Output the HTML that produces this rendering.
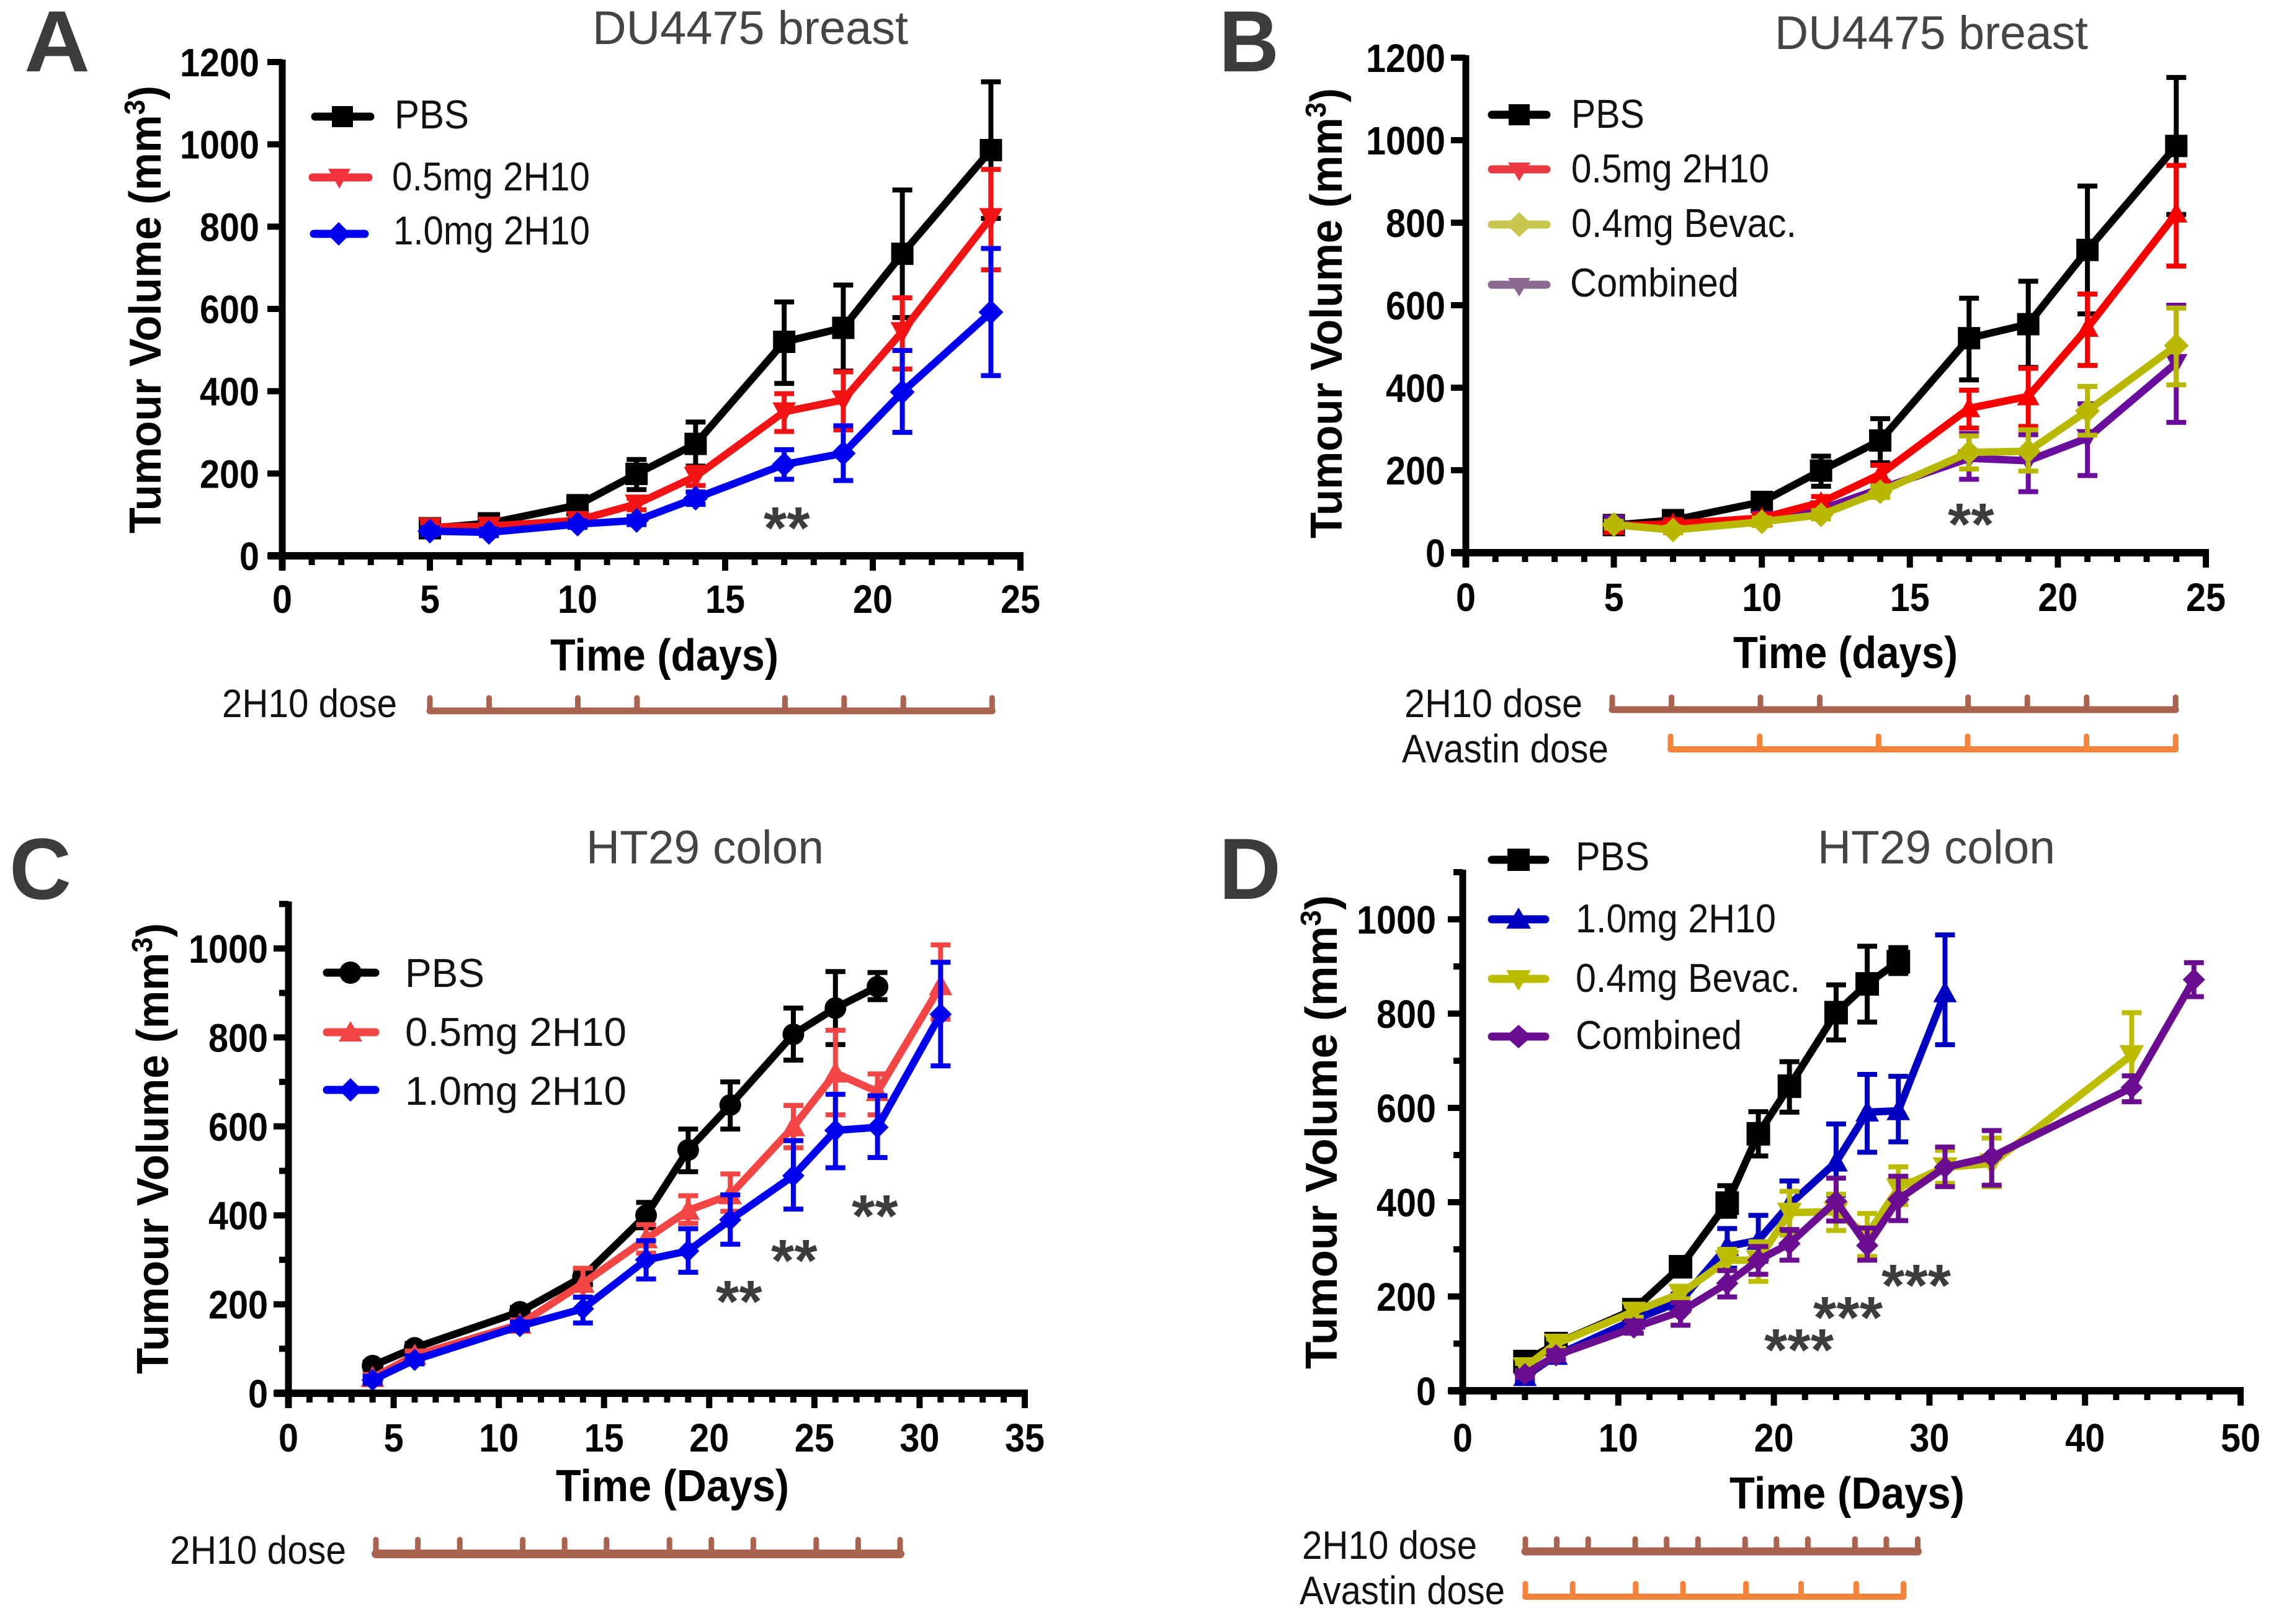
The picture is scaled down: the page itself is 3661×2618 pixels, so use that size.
<!DOCTYPE html>
<html lang="en">
<head>
<meta charset="utf-8">
<title>Tumour volume over time</title>
<style>
html,body{margin:0;padding:0;background:#fff}
svg{display:block;font-family:"Liberation Sans",Arial,sans-serif}
.letter{font-size:140px;font-weight:700;fill:#3c3c3c}
.title{font-size:76px;fill:#444}
.axt{font-size:72px;font-weight:700;fill:#000}
.yt{font-size:72px;font-weight:700;fill:#000}
.sup{font-size:46px}
.leg{font-size:65px;fill:#111}
.dose{font-size:64px;fill:#111}
.star{font-size:96px;font-weight:700;fill:#3c3c3c}
.tick{font-size:64px;font-weight:700;fill:#000}
</style>
</head>
<body>
<svg id="fig" xmlns="http://www.w3.org/2000/svg" width="3661" height="2618" viewBox="0 0 3661 2618">
<rect width="3661" height="2618" fill="#fff"/>

<g>
<text class="letter" x="39" y="115" textLength="106" lengthAdjust="spacingAndGlyphs">A</text>
<text class="title" x="955" y="71" textLength="509" lengthAdjust="spacingAndGlyphs">DU4475 breast</text>
<text class="yt" transform="translate(259,860) rotate(-90)" textLength="722" lengthAdjust="spacingAndGlyphs">Tumour Volume (mm<tspan class="sup" dy="-26">3</tspan><tspan dy="26">)</tspan></text>
<text class="axt" x="887" y="1081" textLength="368" lengthAdjust="spacingAndGlyphs">Time (days)</text>
<text class="dose" x="358" y="1156" textLength="282" lengthAdjust="spacingAndGlyphs">2H10 dose</text>
<text class="star" x="1231" y="884">**</text>
</g>
<g>
<text class="letter" x="1965" y="115" textLength="97" lengthAdjust="spacingAndGlyphs">B</text>
<text class="title" x="2861" y="79" textLength="505" lengthAdjust="spacingAndGlyphs">DU4475 breast</text>
<text class="yt" transform="translate(2163,868) rotate(-90)" textLength="726" lengthAdjust="spacingAndGlyphs">Tumour Volume (mm<tspan class="sup" dy="-26">3</tspan><tspan dy="26">)</tspan></text>
<text class="axt" x="2794" y="1077" textLength="362" lengthAdjust="spacingAndGlyphs">Time (days)</text>
<text class="dose" x="2264" y="1156" textLength="287" lengthAdjust="spacingAndGlyphs">2H10 dose</text>
<text class="dose" x="2260" y="1229" textLength="333" lengthAdjust="spacingAndGlyphs">Avastin dose</text>
<text class="star" x="3140" y="878">**</text>
</g>
<g>
<text class="letter" x="15" y="1449" textLength="100" lengthAdjust="spacingAndGlyphs">C</text>
<text class="title" x="945" y="1392" textLength="383" lengthAdjust="spacingAndGlyphs">HT29 colon</text>
<text class="yt" transform="translate(271,2215) rotate(-90)" textLength="727" lengthAdjust="spacingAndGlyphs">Tumour Volume (mm<tspan class="sup" dy="-26">3</tspan><tspan dy="26">)</tspan></text>
<text class="axt" x="896" y="2420" textLength="376" lengthAdjust="spacingAndGlyphs">Time (Days)</text>
<text class="dose" x="274" y="2521" textLength="284" lengthAdjust="spacingAndGlyphs">2H10 dose</text>
<text class="star" x="1154" y="2131">**</text>
<text class="star" x="1243" y="2065">**</text>
<text class="star" x="1373" y="1993">**</text>
</g>
<g>
<text class="letter" x="1965" y="1449" textLength="100" lengthAdjust="spacingAndGlyphs">D</text>
<text class="title" x="2930" y="1392" textLength="383" lengthAdjust="spacingAndGlyphs">HT29 colon</text>
<text class="yt" transform="translate(2155,2207) rotate(-90)" textLength="764" lengthAdjust="spacingAndGlyphs">Tumour Volume (mm<tspan class="sup" dy="-26">3</tspan><tspan dy="26">)</tspan></text>
<text class="axt" x="2788" y="2432" textLength="379" lengthAdjust="spacingAndGlyphs">Time (Days)</text>
<text class="dose" x="2099" y="2513" textLength="282" lengthAdjust="spacingAndGlyphs">2H10 dose</text>
<text class="dose" x="2095" y="2586" textLength="331" lengthAdjust="spacingAndGlyphs">Avastin dose</text>
<text class="star" x="2844" y="2209">***</text>
<text class="star" x="2923" y="2157">***</text>
<text class="star" x="3033" y="2105">***</text>
</g>

<g>
<g><line x1="508" x2="597" y1="188" y2="188" stroke="#000" stroke-width="13" stroke-linecap="round"/><rect x="535" y="171" width="34" height="34" fill="#000"/><text class="leg" x="636" y="207" textLength="120" lengthAdjust="spacingAndGlyphs">PBS</text></g>
<g><line x1="504" x2="594" y1="286" y2="286" stroke="#f0333c" stroke-width="13" stroke-linecap="round"/><polygon points="529,272 565,272 547,304" fill="#f0333c"/><text class="leg" x="632" y="307" textLength="319" lengthAdjust="spacingAndGlyphs">0.5mg 2H10</text></g>
<g><line x1="506" x2="588" y1="377" y2="377" stroke="#0000ee" stroke-width="13" stroke-linecap="round"/><polygon points="546,358 565,377 546,396 527,377" fill="#0000ee"/><text class="leg" x="634" y="394" textLength="317" lengthAdjust="spacingAndGlyphs">1.0mg 2H10</text></g>
</g>
<g>
<g><line x1="2405" x2="2493" y1="185" y2="185" stroke="#000" stroke-width="13" stroke-linecap="round"/><rect x="2432" y="168" width="34" height="34" fill="#000"/><text class="leg" x="2533" y="206" textLength="118" lengthAdjust="spacingAndGlyphs">PBS</text></g>
<g><line x1="2405" x2="2493" y1="273" y2="273" stroke="#ea3a42" stroke-width="13" stroke-linecap="round"/><polygon points="2431,262 2467,262 2449,292" fill="#ea3a42"/><text class="leg" x="2533" y="294" textLength="319" lengthAdjust="spacingAndGlyphs">0.5mg 2H10</text></g>
<g><line x1="2405" x2="2493" y1="362" y2="362" stroke="#c9c74f" stroke-width="13" stroke-linecap="round"/><polygon points="2449,342 2470,362 2449,382 2428,362" fill="#c9c74f"/><text class="leg" x="2533" y="382" textLength="363" lengthAdjust="spacingAndGlyphs">0.4mg Bevac.</text></g>
<g><line x1="2405" x2="2493" y1="459" y2="459" stroke="#8a6a90" stroke-width="13" stroke-linecap="round"/><polygon points="2431,448 2467,448 2449,478" fill="#8a6a90"/><text class="leg" x="2531" y="478" textLength="272" lengthAdjust="spacingAndGlyphs">Combined</text></g>
</g>
<g>
<g><line x1="527" x2="605" y1="1568" y2="1568" stroke="#000" stroke-width="13" stroke-linecap="round"/><circle cx="565" cy="1568" r="18" fill="#000"/><text class="leg" x="653" y="1591" textLength="128" lengthAdjust="spacingAndGlyphs">PBS</text></g>
<g><line x1="527" x2="605" y1="1664" y2="1664" stroke="#f44545" stroke-width="13" stroke-linecap="round"/><polygon points="565,1646 584,1679 546,1679" fill="#f44545"/><text class="leg" x="653" y="1686" textLength="357" lengthAdjust="spacingAndGlyphs">0.5mg 2H10</text></g>
<g><line x1="527" x2="605" y1="1757" y2="1757" stroke="#0000ee" stroke-width="13" stroke-linecap="round"/><polygon points="565,1738 584,1757 565,1776 546,1757" fill="#0000ee"/><text class="leg" x="653" y="1781" textLength="357" lengthAdjust="spacingAndGlyphs">1.0mg 2H10</text></g>
</g>
<g>
<g><line x1="2405" x2="2491" y1="1386" y2="1386" stroke="#000" stroke-width="13" stroke-linecap="round"/><rect x="2430" y="1368" width="36" height="36" fill="#000"/><text class="leg" x="2540" y="1403" textLength="119" lengthAdjust="spacingAndGlyphs">PBS</text></g>
<g><line x1="2405" x2="2491" y1="1482" y2="1482" stroke="#0000c0" stroke-width="13" stroke-linecap="round"/><polygon points="2448,1463 2468,1497 2428,1497" fill="#0000c0"/><text class="leg" x="2540" y="1503" textLength="323" lengthAdjust="spacingAndGlyphs">1.0mg 2H10</text></g>
<g><line x1="2405" x2="2491" y1="1578" y2="1578" stroke="#bcbc00" stroke-width="13" stroke-linecap="round"/><polygon points="2428,1564 2468,1564 2448,1597" fill="#bcbc00"/><text class="leg" x="2540" y="1599" textLength="362" lengthAdjust="spacingAndGlyphs">0.4mg Bevac.</text></g>
<g><line x1="2405" x2="2491" y1="1671" y2="1671" stroke="#6a0d91" stroke-width="13" stroke-linecap="round"/><polygon points="2448,1652 2469,1671 2448,1690 2427,1671" fill="#6a0d91"/><text class="leg" x="2540" y="1691" textLength="268" lengthAdjust="spacingAndGlyphs">Combined</text></g>
</g>
</svg>

<script>
// ---------- Panel A data ----------
const aDays = [5,7,10,12,14,17,19,21,24];
const aPbs = [67,79,123,199,272,520,554,734,986];
const aPbsHi = [78,90,135,234,325,617,658,889,1152];
const aPbsLo = [56,68,111,161,218,419,449,579,820];
const a05 = [70,72,86,126,193,350,379,545,822];
const a05Hi = [80,80,95,140,215,394,447,627,939];
const a05Lo = [60,64,77,112,171,302,306,454,695];
const a10 = [60,57,77,86,140,222,249,398,592];
const a10Hi = [68,65,85,96,155,258,316,499,747];
const a10Lo = [52,49,69,76,125,186,183,300,438];
const aXTicks = [0,5,10,15,20,25];
const aYTicks = [0,200,400,600,800,1000,1200];
const aDose2h10 = [5,7,10,12,17,19,21,24];

// ---------- Panel B data ----------
const bDays = [5,7,10,12,14,17,19,21,24];
const bPbs = [67,79,123,199,272,520,554,734,986];
const bPbsHi = [78,90,135,234,325,617,658,889,1152];
const bPbsLo = [56,68,111,161,218,419,449,579,820];
const b05 = [65,70,84,122,190,350,379,545,822];
const b05Hi = [75,80,93,136,212,394,447,627,939];
const b05Lo = [55,60,75,108,168,302,306,454,695];
const bBev = [68,55,75,92,148,243,246,344,502];
const bBevHi = [76,62,84,102,162,283,298,403,593];
const bBevLo = [60,48,66,82,134,203,198,285,407];
const bCom = [70,60,80,105,155,229,223,278,460];
const bComHi = [80,68,90,118,172,289,286,361,600];
const bComLo = [60,52,70,92,138,178,148,187,316];
const bXTicks = [0,5,10,15,20,25];
const bYTicks = [0,200,400,600,800,1000,1200];
const bDose2h10 = [5,7,10,12,17,19,21,24];
const bDoseAvastin = [7,10,14,17,21,24];

// ---------- Panel C data ----------
const cDaysPbs = [4,6,11,14,17,19,21,24,26,28];
const cPbs = [62,102,183,262,400,547,648,807,866,914];
const cPbsHi = [70,112,193,280,429,594,700,866,948,946];
const cPbsLo = [54,92,173,244,372,498,594,749,784,885];
const cDays = [4,6,11,14,17,19,21,24,26,28,31];
const c05 = [35,85,155,247,347,411,446,599,720,678,916];
const c05Hi = [42,95,165,281,379,444,493,647,816,718,1008];
const c05Lo = [22,72,142,216,315,382,409,552,626,626,841];
const c10 = [30,75,151,190,300,320,390,489,591,598,852];
const c10Hi = [38,84,160,216,343,370,446,568,672,669,969];
const c10Lo = [22,66,142,158,257,272,335,414,507,530,736];
const cXTicks = [0,5,10,15,20,25,30,35];
const cYTicks = [0,200,400,600,800,1000];
const cDose2h10 = [4,6,8,11,13,15,18,20,22,25,27,29];

// ---------- Panel D data ----------
const dDaysPbs = [4,6,11,14,17,19,21,24,26,28];
const dPbs = [62,100,172,263,398,545,646,802,863,910];
const dPbsHi = [72,110,185,275,435,592,698,861,943,940];
const dPbsLo = [52,90,160,250,370,498,591,744,782,885];
const dDays10 = [4,6,11,14,17,19,21,24,26,28,31];
const d10 = [30,75,150,190,306,319,395,485,591,594,844];
const d10Hi = [40,85,160,205,344,372,445,566,671,667,967];
const d10Lo = [20,65,140,175,260,275,335,415,506,528,734];
const dDaysBev = [4,6,11,14,17,19,21,24,26,28,31,34,43];
const dBev = [50,100,168,206,277,277,378,380,330,430,474,482,712];
const dBevHi = [58,110,180,220,300,316,423,417,376,475,510,536,802];
const dBevLo = [42,90,156,195,255,232,330,340,285,395,440,433,613];
const dDaysCom = [4,6,11,14,17,19,21,24,26,28,31,34,43,47];
const dCom = [35,75,134,168,228,277,312,402,308,406,474,496,643,872];
const dComHi = [42,85,148,187,255,306,342,451,345,455,517,552,668,908];
const dComLo = [28,65,122,139,199,247,277,360,277,361,433,436,613,836];
const dXTicks = [0,10,20,30,40,50];
const dYTicks = [0,200,400,600,800,1000];
const dDose2h10 = [4,6,8,11,13,15,18,20,22,25,27,29];
const dDoseAvastin = [4,7,11,14,18,21.5,25,28];

const NS = 'http://www.w3.org/2000/svg';
const fig = document.getElementById('fig');
const DIGIT_W = 32;

function mk(tag, attrs, name, parent, txt) {
  const el = document.createElementNS(NS, tag);
  for (const k in attrs) el.setAttribute(k, attrs[k]);
  
  
  if (txt !== undefined) el.textContent = txt;
  parent.appendChild(el);
  return el;
}

function marker(shape, cx, cy, size, color, name, parent) {
  const h = size / 2;
  if (shape === 'square') {
    return mk('rect', {x: cx - h, y: cy - h, width: size, height: size, fill: color}, name, parent);
  }
  if (shape === 'circle') {
    return mk('circle', {cx: cx, cy: cy, r: h, fill: color}, name, parent);
  }
  let pts;
  if (shape === 'up') pts = [[cx, cy - h], [cx + h, cy + h * 0.8], [cx - h, cy + h * 0.8]];
  if (shape === 'down') pts = [[cx - h, cy - h * 0.8], [cx + h, cy - h * 0.8], [cx, cy + h]];
  if (shape === 'diamond') pts = [[cx, cy - h], [cx + h, cy], [cx, cy + h], [cx - h, cy]];
  return mk('polygon', {points: pts.map(q => q.join(',')).join(' '), fill: color}, name, parent);
}

function drawPanel(p) {
  const g = mk('g', {}, 'panel-' + p.id + '-chart', fig);
  const X = d => p.x0 + (d / p.xMax) * (p.x1 - p.x0);
  const Y = v => p.y0 - (v / p.yRef) * (p.y0 - p.yRefPx);
  const yTopPx = Y(p.yMax);

  // series
  p.series.forEach(s => {
    const sg = mk('g', {}, 'series-' + s.key, g);
    s.days.forEach((d, i) => {
      const x = X(d), hi = Y(s.hi[i]), lo = Y(s.lo[i]);
      const eb = mk('g', {stroke: s.color, 'stroke-width': 8, fill: 'none'}, 'error-bar-' + s.key + '-day-' + d, sg);
      mk('line', {x1: x, x2: x, y1: hi, y2: lo}, 'error-stem', eb);
      mk('line', {x1: x - 16, x2: x + 16, y1: hi, y2: hi}, 'error-cap-high', eb);
      mk('line', {x1: x - 16, x2: x + 16, y1: lo, y2: lo}, 'error-cap-low', eb);
    });
    mk('polyline', {
      points: s.days.map((d, i) => X(d) + ',' + Y(s.values[i])).join(' '),
      fill: 'none', stroke: s.color, 'stroke-width': 12, 'stroke-linejoin': 'round'
    }, 'line-' + s.key, sg);
    s.days.forEach((d, i) => {
      marker(s.shape, X(d), Y(s.values[i]), s.size, s.color, 'point-' + s.key + '-day-' + d, sg);
    });
  });

  // axes
  const ax = mk('g', {stroke: '#000', fill: 'none'}, 'panel-' + p.id + '-axes', g);
  mk('line', {x1: p.x0, x2: p.x0, y1: yTopPx - 4, y2: p.y0 + 23, 'stroke-width': 11}, 'y-axis-line', ax);
  mk('line', {x1: p.x0 - 23, x2: p.x1 + 5, y1: p.y0, y2: p.y0, 'stroke-width': 12}, 'x-axis-line', ax);
  const xStep = p.xTicks[1] - p.xTicks[0];
  const minorStep = xStep / p.xMinorPerMajor;
  for (let v = 0; v <= p.xMax + 1e-6; v += minorStep) {
    const major = Math.abs(v / xStep - Math.round(v / xStep)) < 1e-6;
    mk('line', {x1: X(v), x2: X(v), y1: p.y0, y2: p.y0 + (major ? 24 : 15), 'stroke-width': 10}, major ? 'x-major-tick' : 'x-minor-tick', ax);
  }
  p.yTicks.forEach(v => {
    mk('line', {x1: p.x0 - 24, x2: p.x0, y1: Y(v), y2: Y(v), 'stroke-width': 10}, 'y-major-tick', ax);
  });
  if (p.yMinor) {
    const yStep = p.yTicks[1] - p.yTicks[0];
    for (let v = yStep / 2; v <= p.yMax; v += yStep) {
      mk('line', {x1: p.x0 - 15, x2: p.x0, y1: Y(v), y2: Y(v), 'stroke-width': 10}, 'y-minor-tick', ax);
    }
  }
  p.xTicks.forEach(v => {
    const s = String(v);
    mk('text', {class: 'tick', x: X(v), y: p.y0 + p.xLabelDy, 'text-anchor': 'middle', textLength: s.length * DIGIT_W, lengthAdjust: 'spacingAndGlyphs'}, 'x-tick-label', g, s);
  });
  p.yTicks.forEach(v => {
    const s = String(v);
    mk('text', {class: 'tick', x: p.x0 - p.yLabelDx, y: Y(v) + 23, 'text-anchor': 'end', textLength: s.length * DIGIT_W, lengthAdjust: 'spacingAndGlyphs'}, 'y-tick-label', g, s);
  });

  // dose schedule bars
  p.doses.forEach(b => {
    const dg = mk('g', {stroke: b.color, fill: 'none'}, 'dose-bar-' + b.key, g);
    const DX = d => b.xStart + (d - b.dStart) * b.perDay;
    const days = b.days;
    mk('line', {x1: DX(days[0]), x2: DX(days[days.length - 1]), y1: b.y, y2: b.y, 'stroke-width': b.w, 'stroke-linecap': 'round'}, 'dose-line', dg);
    days.forEach(d => {
      mk('line', {x1: DX(d), x2: DX(d), y1: b.y, y2: b.y - b.tick, 'stroke-width': 9, 'stroke-linecap': 'round'}, 'dose-tick-day-' + d, dg);
    });
  });
}

drawPanel({
  id: 'a', x0: 455, x1: 1645, xMax: 25, y0: 896, yRef: 1200, yRefPx: 100, yMax: 1200,
  xTicks: aXTicks, yTicks: aYTicks, xMinorPerMajor: 5, yMinor: false, xLabelDy: 92, yLabelDx: 37,
  series: [
    {key: 'pbs', days: aDays, values: aPbs, hi: aPbsHi, lo: aPbsLo, color: '#000', shape: 'square', size: 36},
    {key: '0-5mg-2h10', days: aDays, values: a05, hi: a05Hi, lo: a05Lo, color: '#f21414', shape: 'down', size: 38},
    {key: '1-0mg-2h10', days: aDays, values: a10, hi: a10Hi, lo: a10Lo, color: '#0000f0', shape: 'diamond', size: 40}
  ],
  doses: [{key: '2h10', days: aDose2h10, dStart: 5, xStart: 693, perDay: 47.7, y: 1146, w: 11, tick: 21, color: '#a9634f'}]
});

drawPanel({
  id: 'b', x0: 2363, x1: 3556, xMax: 25, y0: 891, yRef: 1200, yRefPx: 93, yMax: 1200,
  xTicks: bXTicks, yTicks: bYTicks, xMinorPerMajor: 5, yMinor: false, xLabelDy: 94, yLabelDx: 33,
  series: [
    {key: 'pbs', days: bDays, values: bPbs, hi: bPbsHi, lo: bPbsLo, color: '#000', shape: 'square', size: 36},
    {key: 'combined', days: bDays, values: bCom, hi: bComHi, lo: bComLo, color: '#6a0d9e', shape: 'down', size: 36},
    {key: '0-5mg-2h10', days: bDays, values: b05, hi: b05Hi, lo: b05Lo, color: '#f80000', shape: 'up', size: 36},
    {key: '0-4mg-bevac', days: bDays, values: bBev, hi: bBevHi, lo: bBevLo, color: '#b8b800', shape: 'diamond', size: 40}
  ],
  doses: [
    {key: '2h10', days: bDose2h10, dStart: 5, xStart: 2599, perDay: 47.8, y: 1144, w: 11, tick: 20, color: '#a9634f'},
    {key: 'avastin', days: bDoseAvastin, dStart: 7, xStart: 2693, perDay: 47.9, y: 1208, w: 10, tick: 21, color: '#f4843c'}
  ]
});

drawPanel({
  id: 'c', x0: 465, x1: 1652, xMax: 35, y0: 2246, yRef: 1000, yRefPx: 1529, yMax: 1100,
  xTicks: cXTicks, yTicks: cYTicks, xMinorPerMajor: 5, yMinor: true, xLabelDy: 94, yLabelDx: 33,
  series: [
    {key: 'pbs', days: cDaysPbs, values: cPbs, hi: cPbsHi, lo: cPbsLo, color: '#000', shape: 'circle', size: 35},
    {key: '0-5mg-2h10', days: cDays, values: c05, hi: c05Hi, lo: c05Lo, color: '#f44545', shape: 'up', size: 38},
    {key: '1-0mg-2h10', days: cDays, values: c10, hi: c10Hi, lo: c10Lo, color: '#0000f0', shape: 'diamond', size: 36}
  ],
  doses: [{key: '2h10', days: cDose2h10, dStart: 4, xStart: 606, perDay: 33.8, y: 2505, w: 14, tick: 23, color: '#a9634f'}]
});

drawPanel({
  id: 'd', x0: 2358, x1: 3612, xMax: 50, y0: 2242, yRef: 1000, yRefPx: 1482, yMax: 1100,
  xTicks: dXTicks, yTicks: dYTicks, xMinorPerMajor: 5, yMinor: true, xLabelDy: 98, yLabelDx: 43,
  series: [
    {key: 'pbs', days: dDaysPbs, values: dPbs, hi: dPbsHi, lo: dPbsLo, color: '#000', shape: 'square', size: 38},
    {key: '1-0mg-2h10', days: dDays10, values: d10, hi: d10Hi, lo: d10Lo, color: '#0000c0', shape: 'up', size: 38},
    {key: '0-4mg-bevac', days: dDaysBev, values: dBev, hi: dBevHi, lo: dBevLo, color: '#bcbc00', shape: 'down', size: 40},
    {key: 'combined', days: dDaysCom, values: dCom, hi: dComHi, lo: dComLo, color: '#6a0d91', shape: 'diamond', size: 36}
  ],
  doses: [
    {key: '2h10', days: dDose2h10, dStart: 4, xStart: 2459, perDay: 25.3, y: 2501, w: 13, tick: 20, color: '#a9634f'},
    {key: 'avastin', days: dDoseAvastin, dStart: 4, xStart: 2459, perDay: 25.4, y: 2574, w: 10, tick: 21, color: '#f4843c'}
  ]
});
</script>
</body>
</html>
